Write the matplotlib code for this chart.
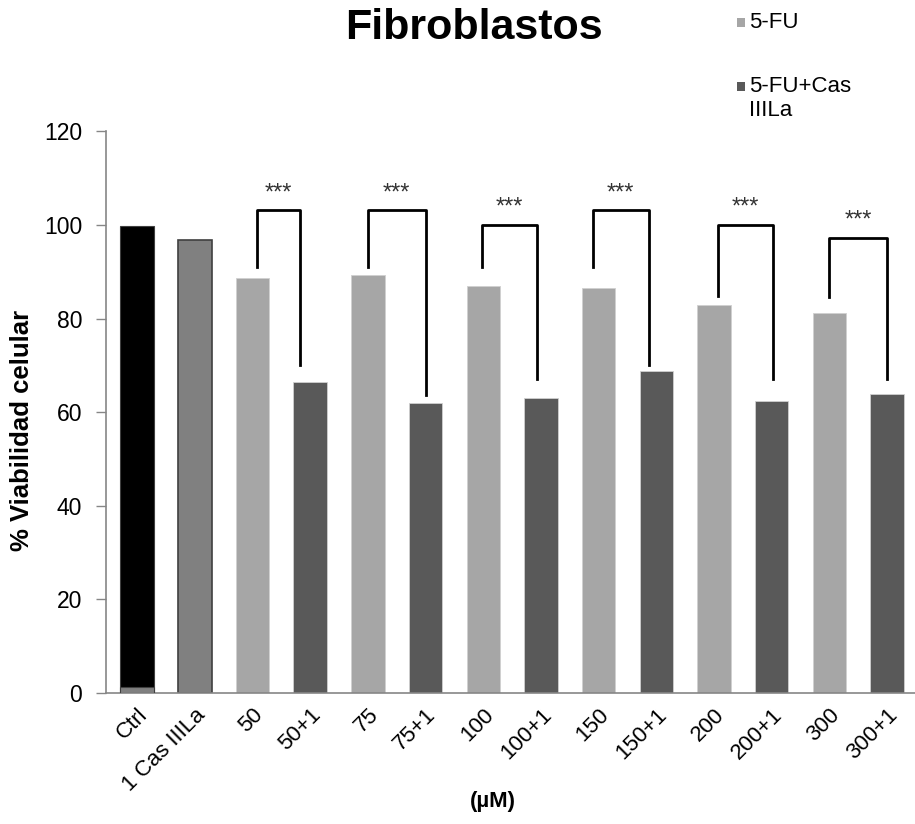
import matplotlib
matplotlib.use("Agg")
import matplotlib.pyplot as plt
from matplotlib.patches import Rectangle

plt.rcParams['font.family'] = ['Liberation Sans', 'DejaVu Sans']

# ---- data ----
categories = ["Ctrl", "1 Cas IIILa", "50", "50+1", "75", "75+1", "100", "100+1",
              "150", "150+1", "200", "200+1", "300", "300+1"]
ctrl_value = 99.8
ctrl_base = 1.2
cas_value = 96.9
fu_values = [88.6, 89.3, 87.0, 86.5, 82.9, 81.3]
fucas_values = [66.4, 61.9, 63.1, 68.7, 62.3, 63.8]
bracket_top = [103.2, 103.2, 100.1, 103.2, 100.1, 97.3]
bracket_left_bottom = [91.1, 91.1, 91.1, 91.1, 84.9, 84.7]
bracket_right_bottom = [70.1, 63.7, 67.0, 70.1, 67.0, 67.2]
bracket_left_shift = [0.07, 0.0, -0.03, -0.1, 0.07, 0.0]
bracket_right_shift = [-0.17, 0.0, -0.07, -0.13, 0.03, 0.0]
sig_label = "***"
series_names = ["5-FU", "5-FU+Cas\nIIILa"]
yticks = [0, 20, 40, 60, 80, 100, 120]

# ---- styles ----
c_fu = "#a6a6a6"
c_fucas = "#595959"
c_cas = "#808080"
axis_gray = "#868686"
bw = 0.58

fig = plt.figure(figsize=(9.15, 8.24), dpi=100)
ax = fig.add_axes([0.1158, 0.159, 0.8852, 0.6815])

x = list(range(len(categories)))
ax.bar(0, ctrl_value, width=bw, color="black", edgecolor="#404040", linewidth=0.8, zorder=2)
ax.bar(0, ctrl_base, width=bw, color=c_cas, edgecolor="#404040", linewidth=0.8, zorder=3)
ax.bar(1, cas_value, width=bw, color=c_cas, edgecolor="#404040", linewidth=1.2, zorder=2)
fu_x = [2 + 2 * i for i in range(len(fu_values))]
fucas_x = [3 + 2 * i for i in range(len(fucas_values))]
ax.bar(fu_x, fu_values, width=bw, color=c_fu, edgecolor="#d0d0d0", linewidth=0.6, zorder=2)
ax.bar(fucas_x, fucas_values, width=bw, color=c_fucas, edgecolor="#d0d0d0", linewidth=0.6, zorder=2)

for i in range(len(fu_values)):
    xl = fu_x[i] + bracket_left_shift[i]
    xr = fucas_x[i] + bracket_right_shift[i]
    ax.plot([xl, xl, xr, xr],
            [bracket_left_bottom[i], bracket_top[i], bracket_top[i], bracket_right_bottom[i]],
            color="black", linewidth=2.0, solid_joinstyle="round", zorder=4)
    ax.text((xl + xr) / 2, bracket_top[i] + 2.3, sig_label, ha="center", va="baseline",
            fontsize=17, color="#333333", zorder=5)

ax.set_xlim(-0.54, 13.5)
ax.set_ylim(0, 120)
ax.set_yticks(yticks)
ax.set_yticklabels([str(v) for v in yticks], fontsize=16.5)
ax.set_xticks(x)
ax.set_xticklabels(categories, rotation=45, ha="right", rotation_mode="anchor", fontsize=16)
ax.tick_params(axis="x", length=0, pad=8)
ax.tick_params(axis="y", length=7, color=axis_gray, width=1, pad=10)

for s in ["top", "right"]:
    ax.spines[s].set_visible(False)
for s in ["left", "bottom"]:
    ax.spines[s].set_color(axis_gray)
    ax.spines[s].set_linewidth(1.2)

ax.set_ylabel("% Viabilidad celular", fontsize=18.5, fontweight="bold")
ax.yaxis.set_label_coords((34 - 106) / 810, (693 - 430) / 561.6)

W, H = 915, 824
fig.text(493 / W, 1 - 801 / H, "(µM)", ha="center", va="center",
         fontsize=16, fontweight="bold")

fig.text(474 / W, 1 - 28 / H, "Fibroblastos", ha="center", va="center",
         fontsize=31, fontweight="bold")

# legend (manual)
leg_items = [(series_names[0], c_fu, 22.5), (series_names[1], c_fucas, 86.5)]
for label, col, yc in leg_items:
    fig.add_artist(Rectangle(((737) / W, 1 - (yc + 4.5) / H), 8 / W, 9 / H,
                             transform=fig.transFigure, facecolor=col, edgecolor="none"))
    fig.text(749 / W, 1 - (yc - 10) / H, label, ha="left", va="top", fontsize=16,
             linespacing=1.15)

fig.savefig("out.png", dpi=100)
